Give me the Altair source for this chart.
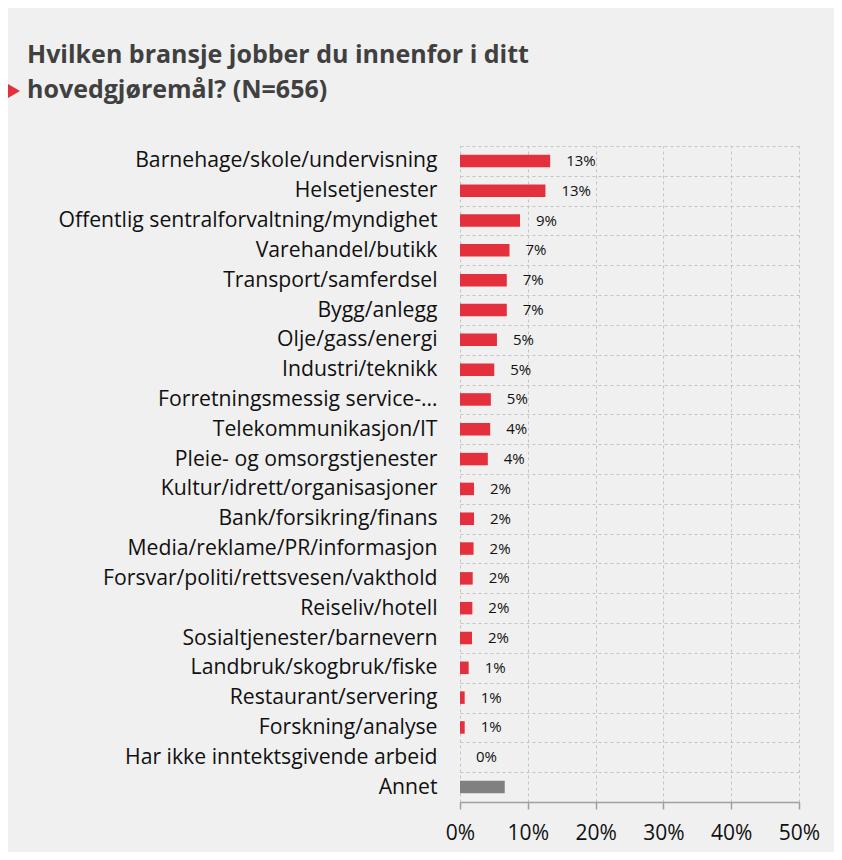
import altair as alt
import pandas as pd

categories = [
    "Barnehage/skole/undervisning",
    "Helsetjenester",
    "Offentlig sentralforvaltning/myndighet",
    "Varehandel/butikk",
    "Transport/samferdsel",
    "Bygg/anlegg",
    "Olje/gass/energi",
    "Industri/teknikk",
    "Forretningsmessig service-…",
    "Telekommunikasjon/IT",
    "Pleie- og omsorgstjenester",
    "Kultur/idrett/organisasjoner",
    "Bank/forsikring/finans",
    "Media/reklame/PR/informasjon",
    "Forsvar/politi/rettsvesen/vakthold",
    "Reiseliv/hotell",
    "Sosialtjenester/barnevern",
    "Landbruk/skogbruk/fiske",
    "Restaurant/servering",
    "Forskning/analyse",
    "Har ikke inntektsgivende arbeid",
    "Annet",
]
values = [13.3, 12.6, 8.85, 7.3, 6.9, 6.9, 5.45, 5.05, 4.55, 4.45, 4.1,
          2.07, 2.07, 2.0, 1.87, 1.82, 1.77, 1.28, 0.69, 0.69, 0.0, 6.6]
value_labels = ["13%", "13%", "9%", "7%", "7%", "7%", "5%", "5%", "5%", "4%", "4%",
                "2%", "2%", "2%", "2%", "2%", "2%", "1%", "1%", "1%", "0%", ""]
bar_group = ["main"] * 21 + ["annet"]

df = pd.DataFrame({
    "kategori": categories,
    "verdi": values,
    "etikett": value_labels,
    "gruppe": bar_group,
})

FONT = "Open Sans"

y_enc = alt.Y(
    "kategori:N",
    sort=categories,
    title=None,
    scale=alt.Scale(paddingInner=0, paddingOuter=0),
    axis=alt.Axis(
        tickBand="extent",
        grid=True,
        gridDash=[3, 3],
        gridColor="#c4c4c4",
        ticks=False,
        domain=False,
        labelPadding=23,
        labelFontSize=21.2,
        labelFont=FONT,
        labelColor="#111111",
        labelLimit=500,
    ),
)

x_enc = alt.X(
    "verdi:Q",
    title=None,
    scale=alt.Scale(domain=[0, 50], nice=False),
    axis=alt.Axis(
        values=[0, 10, 20, 30, 40, 50],
        labelExpr="datum.value + '%'",
        labelFlush=False,
        labelOverlap=False,
        grid=True,
        gridDash=[3, 3],
        gridColor="#c4c4c4",
        domainColor="#a0a0a0",
        domainWidth=1.5,
        tickColor="#a0a0a0",
        tickWidth=1.5,
        tickSize=7,
        labelPadding=13,
        labelFontSize=21,
        labelFont=FONT,
        labelColor="#111111",
    ),
)

bars = alt.Chart(df).mark_bar(size=12.5).encode(
    x=x_enc,
    y=y_enc,
    color=alt.Color(
        "gruppe:N",
        scale=alt.Scale(domain=["main", "annet"], range=["#E3303C", "#808080"]),
        legend=None,
    ),
)

labels = alt.Chart(df).mark_text(
    align="left", baseline="middle", dx=16, fontSize=15, font=FONT, color="#111111"
).encode(
    x="verdi:Q",
    y=alt.Y("kategori:N", sort=categories),
    text="etikett:N",
)

triangle = alt.Chart(pd.DataFrame({"k": [0]})).mark_point(
    shape="triangle-right", filled=True, opacity=1, color="#E3303C", size=900,
    strokeWidth=0
).encode(x=alt.value(-453), y=alt.value(-55))

chart = alt.layer(bars, labels, triangle).properties(
    width=339,
    height=656,
    padding={"left": 452, "top": 138, "right": 35, "bottom": 50},
    autosize=alt.AutoSizeParams(type="none"),
    background="#f0f0f0",
    title=alt.TitleParams(
        text=["Hvilken bransje jobber du innenfor i ditt", "hovedgjøremål? (N=656)"],
        anchor="start",
        frame="group",
        dx=-433,
        dy=63,
        offset=36,
        fontSize=25,
        lineHeight=35,
        font=FONT,
        fontWeight="bold",
        color="#404040",
    ),
).configure_view(stroke=None)

chart.save("out.html", embed_options={"renderer": "svg", "actions": False})
